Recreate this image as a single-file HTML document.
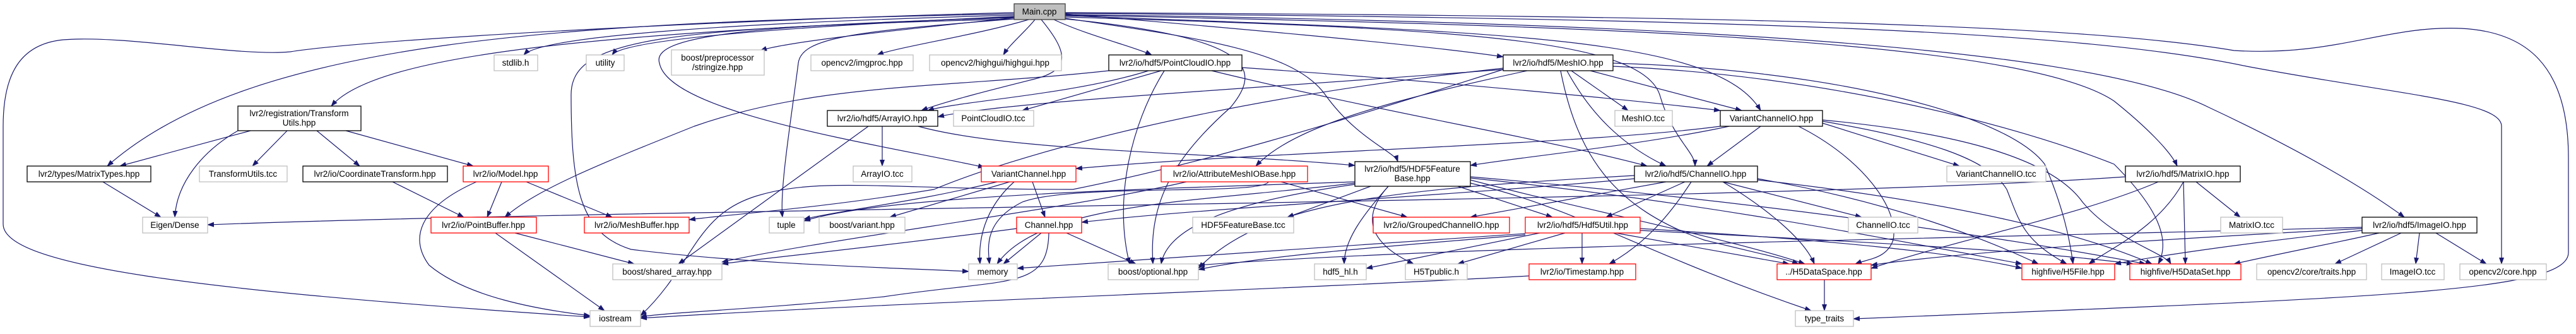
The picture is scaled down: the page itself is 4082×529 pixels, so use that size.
<!DOCTYPE html>
<html><head><meta charset="utf-8"><style>
html,body{margin:0;padding:0;background:#fff;}
svg{display:block;}
text{font-family:"Liberation Sans",sans-serif;font-size:13.5px;text-anchor:middle;fill:#000;}
.g{fill:#fff;stroke:#bfbfbf;stroke-width:1.3;}
.k{fill:#fff;stroke:#000;stroke-width:1.3;}
.r{fill:#fff;stroke:#ff0000;stroke-width:1.3;}
.m{fill:#bfbfbf;stroke:#404040;stroke-width:1.3;}
.e path{fill:none;stroke:#191970;stroke-width:1.2;marker-end:url(#a);}
</style></head><body>
<svg width="4082" height="529" viewBox="0 0 4082 529" xmlns="http://www.w3.org/2000/svg">
<defs><marker id="a" markerUnits="userSpaceOnUse" markerWidth="11" markerHeight="8" refX="10" refY="4" orient="auto"><path d="M0,0 L11,4 L0,8 z" fill="#191970"/></marker></defs>
<g class="e">
<path d="M1607 24 C1200 35 860 55 830 87"/>
<path d="M1607 26 C1300 40 990 60 970 87"/>
<path d="M1607 28 C1450 45 1250 65 1205 80"/>
<path d="M1630 31 C1550 55 1420 75 1390 87"/>
<path d="M1640 31 C1625 50 1600 70 1590 87"/>
<path d="M1670 31 C1720 55 1800 75 1825 87"/>
<path d="M1688 22 C1900 40 2250 70 2382 90"/>
<path d="M1607 27 C1000 50 600 80 525 168"/>
<path d="M1607 22 C900 35 400 60 170 263"/>
<path d="M1607 20 C1200 30 600 60 460 82 C380 90 200 55 100 63 C30 70 5 120 5 200 L5 355 C5 420 300 460 935 502"/>
<path d="M1650 31 C1690 80 1700 110 1640 125 C1580 140 1500 160 1460 175"/>
<path d="M1607 28 C1200 40 1030 55 1045 100 C1060 180 1400 230 1560 265"/>
<path d="M1607 30 C1350 50 1270 60 1265 100 C1255 180 1235 300 1240 344"/>
<path d="M1607 30 C1050 45 905 60 905 150 C905 300 920 370 1000 395 C1200 420 1450 425 1535 430"/>
<path d="M1688 30 C1990 60 2000 110 1950 170 C1860 250 1820 320 1827 418"/>
<path d="M1688 25 C2400 50 2720 60 2790 175"/>
<path d="M1688 27 C2300 45 2600 60 2630 150 C2650 220 2686 240 2686 263"/>
<path d="M1688 29 C1900 60 2050 80 2100 150 C2150 220 2210 240 2215 256"/>
<path d="M1688 24 C2500 40 3200 60 3350 160 C3400 200 3440 240 3450 263"/>
<path d="M1688 23 C2600 35 3300 70 3500 170 C3650 240 3750 300 3810 344"/>
<path d="M1688 21 C2800 30 3300 50 3560 105 C3800 150 3964 160 3964 200 L3964 418"/>
<path d="M1688 20 C2800 25 3300 40 3540 80 C3700 90 3780 40 3900 45 C4000 50 4070 100 4070 250 L4070 400 C4070 460 3800 470 3060 500 L2937 505"/>
<path d="M397 207 L190 263"/>
<path d="M377 207 C320 240 280 290 277 344"/>
<path d="M455 207 L400 263"/>
<path d="M502 207 L570 263"/>
<path d="M548 207 L750 263"/>
<path d="M163 288 L255 344"/>
<path d="M622 288 L735 344"/>
<path d="M795 288 L772 344"/>
<path d="M834 288 L970 344"/>
<path d="M755 288 C660 330 650 380 680 420 C740 470 850 490 935 500"/>
<path d="M816 369 L1005 418"/>
<path d="M785 369 L958 492"/>
<path d="M3368 280 C2800 320 1000 330 329 356"/>
<path d="M1757 112 C1500 140 1300 130 1100 200 C950 260 850 300 800 344"/>
<path d="M1820 112 C1700 150 1520 160 1470 175"/>
<path d="M1840 112 L1620 175"/>
<path d="M1845 112 C1790 200 1765 320 1790 418"/>
<path d="M1968 107 C2300 130 2600 160 2726 175"/>
<path d="M1920 112 C2200 180 2450 220 2610 263"/>
<path d="M1398 200 L1398 263"/>
<path d="M1376 200 L1075 418"/>
<path d="M1455 200 C1600 240 1900 240 2147 262"/>
<path d="M1580 288 C1450 320 1350 330 1274 347"/>
<path d="M1600 288 L1410 344"/>
<path d="M1607 288 C1560 330 1550 380 1553 418"/>
<path d="M1636 288 L1656 344"/>
<path d="M2382 108 C1900 160 1600 250 1480 300 C1300 330 1150 340 1092 348"/>
<path d="M1650 369 L1590 418"/>
<path d="M1690 369 L1800 418"/>
<path d="M1611 362 C1400 390 1200 410 1144 418"/>
<path d="M1662 369 C1660 460 1600 440 1400 470 C1200 490 1050 495 1015 502"/>
<path d="M1880 288 C1700 330 1300 380 1144 415"/>
<path d="M2010 288 C2000 310 1700 290 1620 320 C1560 350 1565 390 1568 418"/>
<path d="M2382 110 C2100 200 1900 260 1700 300 C1400 300 1300 280 1200 310 C1100 340 1100 420 1015 500"/>
<path d="M2382 110 C2000 140 1600 160 1486 185"/>
<path d="M2420 112 C2200 160 2050 200 1990 263"/>
<path d="M2490 112 L2580 175"/>
<path d="M2520 112 L2760 175"/>
<path d="M2483 112 C2520 180 2570 230 2640 263"/>
<path d="M2473 112 C2500 250 2560 330 2700 380 C2780 400 2830 410 2850 418"/>
<path d="M2556 100 C2900 110 3180 180 3240 260 C3270 330 3280 380 3285 418"/>
<path d="M2556 105 C2900 120 3200 200 3350 260 C3420 330 3440 380 3420 418"/>
<path d="M2740 200 C2600 230 2400 250 2330 262"/>
<path d="M2726 200 C2500 230 2000 240 1705 267"/>
<path d="M2790 200 L2705 263"/>
<path d="M2888 195 L3105 263"/>
<path d="M2850 200 C2950 250 3010 330 3000 380 C2990 410 2960 410 2940 418"/>
<path d="M2888 192 C3050 220 3150 250 3180 300 C3200 350 3205 380 3275 418"/>
<path d="M2888 190 C3100 210 3250 250 3300 320 C3350 380 3430 400 3440 418"/>
<path d="M2030 288 L2230 344"/>
<path d="M2310 295 L2460 344"/>
<path d="M2200 295 C2160 340 2130 380 2130 418"/>
<path d="M2200 295 C2150 350 2180 390 2240 418"/>
<path d="M2172 295 L2040 344"/>
<path d="M2147 290 C1900 320 1650 320 1580 418"/>
<path d="M2147 292 C1950 320 1850 360 1840 418"/>
<path d="M2147 288 C1800 300 1400 310 1274 350"/>
<path d="M2330 285 C2500 330 2750 380 2860 418"/>
<path d="M2330 290 C2500 330 2600 400 2870 492"/>
<path d="M2330 282 C2700 320 3000 380 3204 418"/>
<path d="M2330 280 C2800 320 3200 380 3400 418"/>
<path d="M2640 288 L2330 344"/>
<path d="M2670 288 L2545 344"/>
<path d="M2680 288 C2640 350 2600 390 2550 418"/>
<path d="M2730 288 L2950 344"/>
<path d="M2730 288 C2800 330 2860 380 2875 418"/>
<path d="M2785 283 C3000 320 3150 380 3230 418"/>
<path d="M2785 285 C3100 320 3300 370 3410 418"/>
<path d="M2590 283 C2300 310 1900 330 1714 352"/>
<path d="M2590 278 C2200 300 2000 320 1899 425"/>
<path d="M2440 369 L2165 425"/>
<path d="M2480 369 L2310 418"/>
<path d="M2507 369 L2507 418"/>
<path d="M2560 369 L2835 418"/>
<path d="M2599 362 C2900 380 3100 400 3204 425"/>
<path d="M2599 365 C3000 385 3250 400 3380 418"/>
<path d="M2417 370 C2100 390 1800 410 1612 425"/>
<path d="M2417 372 C2200 390 2000 405 1899 427"/>
<path d="M2423 437 C2000 460 1400 480 1015 504"/>
<path d="M2891 443 L2891 492"/>
<path d="M3480 288 L3550 344"/>
<path d="M3460 288 C3420 360 3350 390 3310 418"/>
<path d="M3460 288 L3463 418"/>
<path d="M3420 288 C3300 340 3100 380 2965 425"/>
<path d="M3805 369 L3700 418"/>
<path d="M3834 369 L3828 418"/>
<path d="M3860 369 L3940 418"/>
<path d="M3743 365 C3600 380 3450 400 3351 418"/>
<path d="M3770 369 C3700 385 3620 400 3540 418"/>
<path d="M3743 362 C3400 380 3100 400 2965 420"/>
<path d="M3743 360 C3000 380 2300 390 1899 420"/>
</g>
<g>
<rect class="m" x="1607" y="6" width="81" height="25"/><text x="1647" y="23">Main.cpp</text>
<rect class="g" x="783" y="87" width="69" height="25"/><text x="817" y="104">stdlib.h</text>
<rect class="g" x="929" y="87" width="60" height="25"/><text x="959" y="104">utility</text>
<rect class="g" x="1064" y="79" width="147" height="40"/><text x="1137" y="96">boost/preprocessor</text><text x="1137" y="111">/stringize.hpp</text>
<rect class="g" x="1285" y="87" width="162" height="25"/><text x="1366" y="104">opencv2/imgproc.hpp</text>
<rect class="g" x="1473" y="87" width="209" height="25"/><text x="1577" y="104">opencv2/highgui/highgui.hpp</text>
<rect class="k" x="1757" y="87" width="211" height="25"/><text x="1862" y="104">lvr2/io/hdf5/PointCloudIO.hpp</text>
<rect class="k" x="2382" y="87" width="174" height="25"/><text x="2469" y="104">lvr2/io/hdf5/MeshIO.hpp</text>
<rect class="k" x="377" y="168" width="195" height="39"/><text x="474" y="184">lvr2/registration/Transform</text><text x="474" y="199">Utils.hpp</text>
<rect class="k" x="1311" y="175" width="175" height="25"/><text x="1398" y="192">lvr2/io/hdf5/ArrayIO.hpp</text>
<rect class="g" x="1511" y="175" width="127" height="25"/><text x="1574" y="192">PointCloudIO.tcc</text>
<rect class="g" x="2559" y="175" width="91" height="25"/><text x="2604" y="192">MeshIO.tcc</text>
<rect class="k" x="2726" y="175" width="162" height="25"/><text x="2807" y="192">VariantChannelIO.hpp</text>
<rect class="k" x="43" y="263" width="196" height="25"/><text x="141" y="280">lvr2/types/MatrixTypes.hpp</text>
<rect class="g" x="316" y="263" width="139" height="25"/><text x="385" y="280">TransformUtils.tcc</text>
<rect class="k" x="480" y="263" width="229" height="25"/><text x="594" y="280">lvr2/io/CoordinateTransform.hpp</text>
<rect class="r" x="734" y="263" width="135" height="25"/><text x="801" y="280">lvr2/io/Model.hpp</text>
<rect class="g" x="1352" y="263" width="93" height="25"/><text x="1398" y="280">ArrayIO.tcc</text>
<rect class="r" x="1555" y="263" width="150" height="25"/><text x="1630" y="280">VariantChannel.hpp</text>
<rect class="r" x="1840" y="263" width="232" height="25"/><text x="1956" y="280">lvr2/io/AttributeMeshIOBase.hpp</text>
<rect class="k" x="2147" y="256" width="183" height="39"/><text x="2238" y="272">lvr2/io/hdf5/HDF5Feature</text><text x="2238" y="287">Base.hpp</text>
<rect class="k" x="2590" y="263" width="195" height="25"/><text x="2687" y="280">lvr2/io/hdf5/ChannelIO.hpp</text>
<rect class="g" x="3085" y="263" width="157" height="25"/><text x="3163" y="280">VariantChannelIO.tcc</text>
<rect class="k" x="3368" y="263" width="182" height="25"/><text x="3459" y="280">lvr2/io/hdf5/MatrixIO.hpp</text>
<rect class="g" x="226" y="344" width="103" height="25"/><text x="277" y="361">Eigen/Dense</text>
<rect class="r" x="683" y="344" width="167" height="25"/><text x="766" y="361">lvr2/io/PointBuffer.hpp</text>
<rect class="r" x="926" y="344" width="166" height="25"/><text x="1009" y="361">lvr2/io/MeshBuffer.hpp</text>
<rect class="g" x="1219" y="344" width="55" height="25"/><text x="1246" y="361">tuple</text>
<rect class="g" x="1298" y="344" width="136" height="25"/><text x="1366" y="361">boost/variant.hpp</text>
<rect class="r" x="1611" y="344" width="103" height="25"/><text x="1662" y="361">Channel.hpp</text>
<rect class="g" x="1890" y="344" width="160" height="25"/><text x="1970" y="361">HDF5FeatureBase.tcc</text>
<rect class="r" x="2176" y="344" width="216" height="25"/><text x="2284" y="361">lvr2/io/GroupedChannelIO.hpp</text>
<rect class="r" x="2417" y="344" width="182" height="25"/><text x="2508" y="361">lvr2/io/hdf5/Hdf5Util.hpp</text>
<rect class="g" x="2929" y="344" width="110" height="25"/><text x="2984" y="361">ChannelIO.tcc</text>
<rect class="g" x="3519" y="344" width="98" height="25"/><text x="3568" y="361">MatrixIO.tcc</text>
<rect class="k" x="3743" y="344" width="182" height="25"/><text x="3834" y="361">lvr2/io/hdf5/ImageIO.hpp</text>
<rect class="g" x="971" y="418" width="173" height="25"/><text x="1057" y="435">boost/shared_array.hpp</text>
<rect class="g" x="1535" y="418" width="77" height="25"/><text x="1573" y="435">memory</text>
<rect class="g" x="1756" y="418" width="143" height="25"/><text x="1827" y="435">boost/optional.hpp</text>
<rect class="g" x="2083" y="418" width="82" height="25"/><text x="2124" y="435">hdf5_hl.h</text>
<rect class="g" x="2227" y="418" width="98" height="25"/><text x="2276" y="435">H5Tpublic.h</text>
<rect class="r" x="2423" y="418" width="169" height="25"/><text x="2507" y="435">lvr2/io/Timestamp.hpp</text>
<rect class="r" x="2816" y="418" width="149" height="25"/><text x="2890" y="435">../H5DataSpace.hpp</text>
<rect class="r" x="3204" y="418" width="147" height="25"/><text x="3277" y="435">highfive/H5File.hpp</text>
<rect class="r" x="3375" y="418" width="176" height="25"/><text x="3463" y="435">highfive/H5DataSet.hpp</text>
<rect class="g" x="3576" y="418" width="174" height="25"/><text x="3663" y="435">opencv2/core/traits.hpp</text>
<rect class="g" x="3774" y="418" width="99" height="25"/><text x="3823" y="435">ImageIO.tcc</text>
<rect class="g" x="3898" y="418" width="137" height="25"/><text x="3966" y="435">opencv2/core.hpp</text>
<rect class="g" x="935" y="492" width="80" height="25"/><text x="975" y="509">iostream</text>
<rect class="g" x="2845" y="492" width="92" height="25"/><text x="2891" y="509">type_traits</text>
</g>
</svg>
</body></html>
